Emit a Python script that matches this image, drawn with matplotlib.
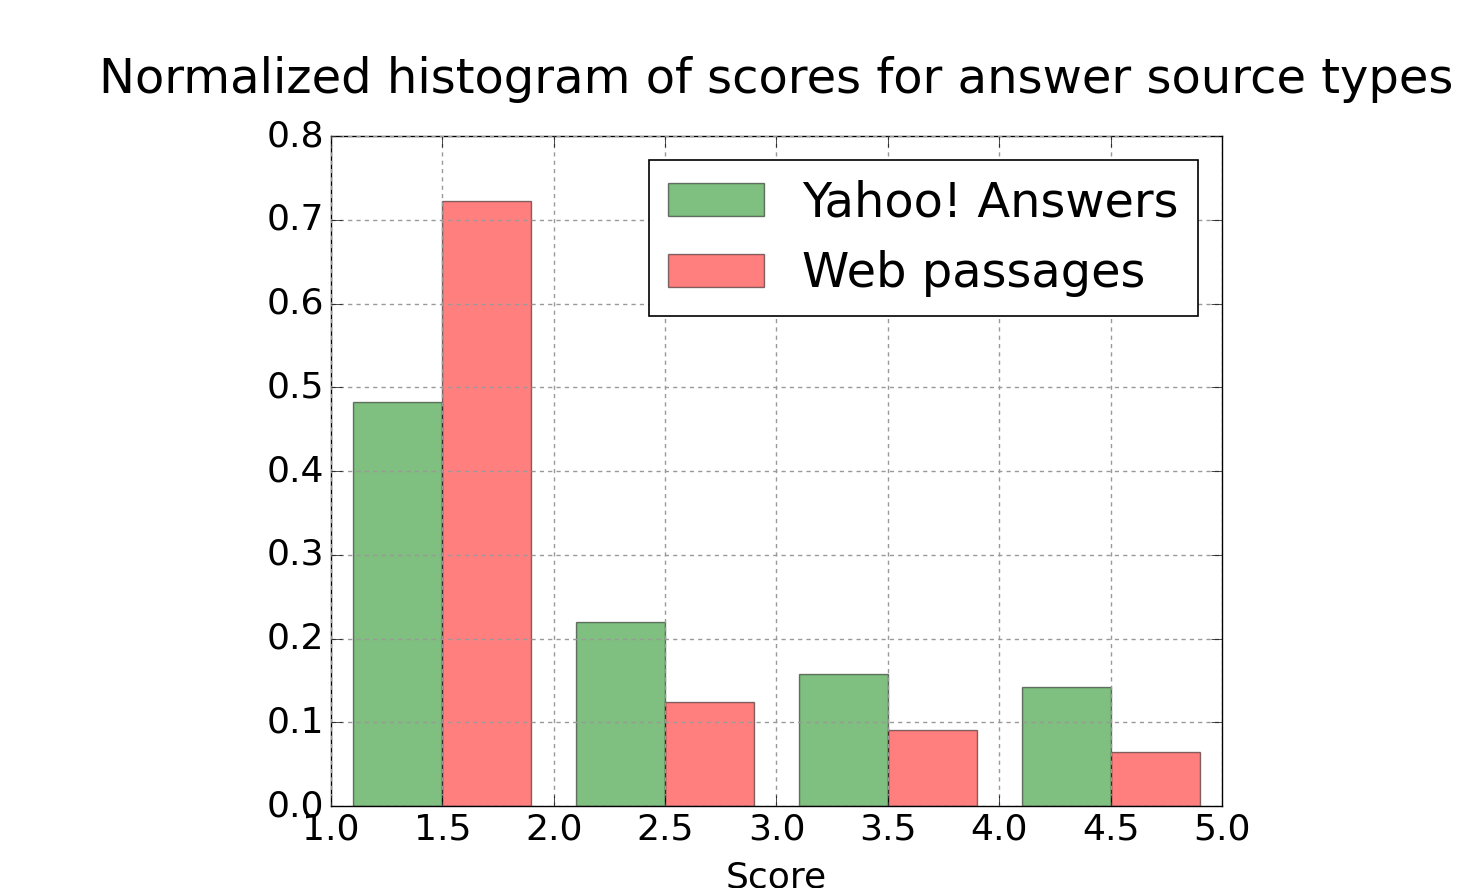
import matplotlib
matplotlib.use("Agg")
import matplotlib.pyplot as plt

plt.style.use("classic")

# bin edges for the score histogram and normalized bin heights
bin_edges = [1, 2, 3, 4, 5]
bin_centers = [1.5, 2.5, 3.5, 4.5]
yahoo_answers = [0.483, 0.220, 0.158, 0.142]
web_passages = [0.722, 0.124, 0.091, 0.065]
series_names = ["Yahoo! Answers", "Web passages"]

fig = plt.figure(figsize=(14.63, 8.88), dpi=100, facecolor="white")
ax = fig.add_axes([0.2262, 0.0923, 0.6091, 0.7545])

ax.hist([bin_centers, bin_centers], bins=bin_edges,
        weights=[yahoo_answers, web_passages],
        rwidth=0.8, color=["g", "r"], alpha=0.5, label=series_names)

ax.set_xlim(1, 5)
ax.set_ylim(0, 0.8)
ax.grid(True, color="0.6", linestyle=(0, (3, 3)), linewidth=1)
ax.tick_params(labelsize=26, length=8, pad=5)
ax.set_xlabel("Score", fontsize=26, labelpad=10)
ax.set_title("Normalized histogram of scores for answer source types",
             fontsize=34.55, y=1.054)

leg = ax.legend(loc="upper right", fontsize=34.5, handlelength=2.0,
                handleheight=0.7, borderpad=0.4, labelspacing=0.5,
                handletextpad=0.8, borderaxespad=0.5, fancybox=False)
leg.get_frame().set_linewidth(1.2)

fig.savefig("out.png", dpi=100, facecolor="white")
